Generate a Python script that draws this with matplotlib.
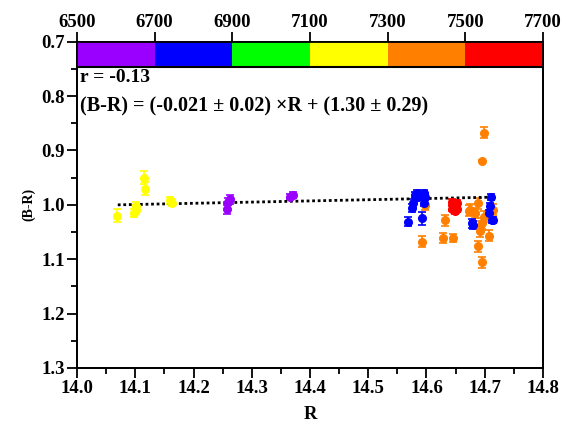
import numpy as np
import matplotlib
matplotlib.use('Agg')
import matplotlib.pyplot as plt
from matplotlib.patches import Rectangle

plt.rcParams['font.family'] = ['Liberation Serif', 'DejaVu Serif']
plt.rcParams['font.weight'] = 'bold'

# colour bands on top axis (wavelength)
band_edges = [6500, 6700, 6900, 7100, 7300, 7500, 7700]
band_colors = ['#9900ff', '#0000ff', '#00ff00', '#ffff00', '#ff8000', '#ff0000']

# data groups: R, (B-R), error
yellow_R = [14.069, 14.115, 14.117, 14.097, 14.101, 14.101, 14.160, 14.163]
yellow_BR = [1.020, 0.950, 0.970, 1.015, 1.009, 1.003, 0.992, 0.996]
yellow_err = [0.012, 0.012, 0.012, 0.008, 0.008, 0.008, 0.006, 0.006]

purple_R = [14.258, 14.263, 14.260, 14.366, 14.370]
purple_BR = [1.008, 0.990, 0.994, 0.985, 0.982]
purple_err = [0.008, 0.008, 0.006, 0.005, 0.005]

blue_R = [14.569, 14.575, 14.576, 14.580, 14.583, 14.586, 14.592, 14.595, 14.597, 14.595,
          14.678, 14.680, 14.710, 14.709, 14.708, 14.712, 14.715]
blue_BR = [1.031, 1.006, 0.997, 0.982, 0.978, 0.985, 1.025, 0.979, 0.985, 0.997,
           1.034, 1.037, 0.986, 1.003, 1.015, 1.028, 1.028]
blue_err = [0.008, 0.008, 0.008, 0.006, 0.006, 0.006, 0.012, 0.006, 0.006, 0.006,
            0.008, 0.008, 0.006, 0.006, 0.006, 0.006, 0.006]

red_R = [14.644, 14.647, 14.651, 14.644, 14.652, 14.649, 14.646, 14.652]
red_BR = [0.995, 1.000, 1.006, 1.007, 0.997, 1.011, 1.002, 1.008]
red_err = [0.005, 0.005, 0.005, 0.005, 0.005, 0.006, 0.005, 0.005]

orange_R = [14.597, 14.593, 14.632, 14.629, 14.646, 14.673, 14.683, 14.689, 14.691, 14.692,
            14.689, 14.695, 14.699, 14.695, 14.698, 14.695, 14.708, 14.715, 14.675]
orange_BR = [1.000, 1.068, 1.028, 1.061, 1.061, 1.011, 1.015, 0.997, 1.040, 1.049,
             1.076, 1.106, 0.867, 0.919, 1.022, 1.034, 1.057, 1.009, 1.009]
orange_err = [0.010, 0.010, 0.010, 0.010, 0.008, 0.010, 0.010, 0.010, 0.010, 0.010,
              0.010, 0.010, 0.010, 0.002, 0.010, 0.010, 0.010, 0.010, 0.010]

# linear fit line
fit_R = [14.07, 14.71]
fit_BR = [1.000, 0.986]

fig = plt.figure(figsize=(5.76, 4.28), dpi=100)
ax = fig.add_axes([0.1337, 0.1402, 0.809, 0.7624])

groups = [(yellow_R, yellow_BR, yellow_err, '#ffff00'),
          (purple_R, purple_BR, purple_err, '#9900ff'),
          (orange_R, orange_BR, orange_err, '#ff8000'),
          (blue_R, blue_BR, blue_err, '#0000ff'),
          (red_R, red_BR, red_err, '#ff0000')]
for r, br, e, c in groups:
    ax.errorbar(r, br, yerr=e, fmt='o', color=c, ms=5.5, capsize=3, elinewidth=1.2, capthick=1.2)

ax.plot(fit_R, fit_BR, color='black', ls=(0, (1, 1)), lw=2)

ax.set_xlim(14.0, 14.8)
ax.set_ylim(1.3, 0.7)
ax.set_xticks(np.arange(14.0, 14.81, 0.1))
ax.set_xticks(np.arange(14.05, 14.8, 0.1), minor=True)
ax.set_yticks(np.arange(0.7, 1.31, 0.1))
ax.set_yticks(np.arange(0.75, 1.3, 0.1), minor=True)
ax.xaxis.set_major_formatter(plt.FormatStrFormatter('%.1f'))
ax.yaxis.set_major_formatter(plt.FormatStrFormatter('%.1f'))
ax.tick_params(which='major', direction='out', length=7, width=1.3, labelsize=13.5, pad=2)
ax.tick_params(which='minor', direction='out', length=4, width=1.3)
for s in ax.spines.values():
    s.set_linewidth(1.3)

ax.set_xlabel('R', fontsize=13.5, fontweight='bold', labelpad=6)
ax.set_ylabel('(B-R)', fontsize=10, fontweight='bold', labelpad=4)

# top axis with colour bar
top = ax.twiny()
top.set_xlim(band_edges[0], band_edges[-1])
top.set_xticks(band_edges)
top.tick_params(direction='out', length=7, width=1.3, labelsize=13.5, pad=1)
for s in top.spines.values():
    s.set_linewidth(1.3)
top.set_ylim(1.3, 0.7)
for i, c in enumerate(band_colors):
    top.add_patch(Rectangle((band_edges[i], 0.7), band_edges[i + 1] - band_edges[i], 0.046,
                            facecolor=c, edgecolor='none', zorder=0))
top.plot([band_edges[0], band_edges[-1]], [0.746, 0.746], color='black', lw=1.5)

ax.text(14.005, 0.766, 'r = -0.13', fontsize=14, fontweight='bold', va='center')
ax.text(14.005, 0.820, '(B-R) = (-0.021 \u00b1 0.02) \u00d7R + (1.30 \u00b1 0.29)',
        fontsize=14.5, fontweight='bold', va='center')

fig.savefig('out.png', dpi=100)
